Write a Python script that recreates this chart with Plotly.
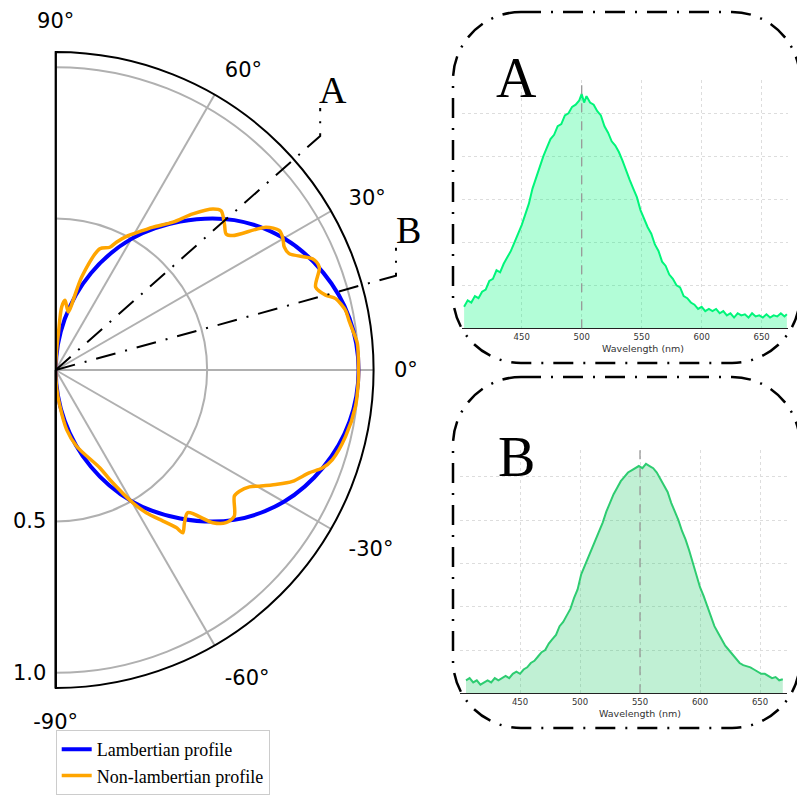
import plotly.graph_objects as go
import math

# ---------------- data ----------------
# Lambertian profile
lamb_theta = [90, 80, 70, 60, 50, 40, 30, 20, 10, 0, -10, -20, -30, -40, -50, -60, -70, -80, -90]
lamb_r = [0.0, 0.17, 0.34, 0.50, 0.64, 0.77, 0.87, 0.94, 0.985, 1.0, 0.985, 0.94, 0.87, 0.77, 0.64, 0.50, 0.34, 0.17, 0.0]

# Non-lambertian profile
nl_theta = [90, 87.5, 85.8, 84.6, 82.4, 79.8, 77.7, 74.4, 70.0, 66.2, 64.6, 61.7, 60.4, 55.7, 51.6, 48.7,
            45.7, 43.9, 40.9, 38.6, 37.2, 34.2, 32.0, 30.3, 28.3, 26.5, 23.4, 21.3, 17.7, 15.5, 14.3,
            11.65, 9.6, 7.0, 5.0, 0.0, -1.9, -6.95, -12.9, -18.0, -20.2, -22.1, -25.2, -27.5, -29.7,
            -31.1, -33.4, -35.2, -39.3, -41.9, -44.2, -47.2, -49.9, -52.0, -52.6, -54.6, -57.6, -59.8,
            -63.7, -65.7, -74.7, -79.6, -83.3, -87, -90]
nl_r = [0.0, 0.06, 0.121, 0.209, 0.232, 0.21, 0.196, 0.319, 0.426, 0.443, 0.467, 0.504, 0.517, 0.571, 0.623, 0.686,
        0.743, 0.758, 0.737, 0.720, 0.734, 0.839, 0.870, 0.868, 0.857, 0.861, 0.924, 0.934, 0.901, 0.925, 0.954,
        0.977, 0.982, 0.992, 1.0, 1.0, 1.0, 0.997, 0.982, 0.960, 0.938, 0.903, 0.864, 0.819, 0.774,
        0.747, 0.727, 0.722, 0.762, 0.755, 0.723, 0.642, 0.660, 0.682, 0.655, 0.612, 0.558, 0.508,
        0.404, 0.355, 0.261, 0.200, 0.122, 0.06, 0.0]

angle_ticks = [90, 60, 30, 0, -30, -60, -90]
angle_labels = ["90°", "60°", "30°", "0°", "-30°", "-60°", "-90°"]
radial_ticks = [0.5, 1.0]
radial_labels = ["0.5", "1.0"]
radial_max = 1.05

# Probe directions
probe_names = ["A", "B"]
probe_angles = [41.5, 15.5]

# Spectrum A
wl_a = [402, 405, 408, 411, 414, 417, 420, 423, 426, 429, 432, 435, 438, 441, 444, 447, 450, 453, 456, 459,
        462, 465, 468, 471, 474, 477, 480, 483, 486, 489, 492, 495, 498, 500, 502, 504, 507, 510, 513, 516,
        519, 522, 525, 528, 531, 534, 537, 540, 543, 546, 549, 552, 555, 558, 561, 564, 567, 570, 573, 576,
        579, 582, 585, 588, 591, 594, 597, 600, 603, 606, 609, 612, 615, 618, 621, 624, 627, 630, 633, 636,
        639, 642, 645, 648, 651, 654, 657, 660, 663, 666, 669, 671]
int_a = [0.10, 0.13, 0.12, 0.15, 0.14, 0.17, 0.18, 0.22, 0.23, 0.27, 0.26, 0.30, 0.33, 0.36, 0.40, 0.44, 0.48, 0.53, 0.58, 0.65,
         0.70, 0.76, 0.80, 0.84, 0.88, 0.90, 0.94, 0.95, 0.99, 1.00, 1.03, 1.04, 1.06, 1.09, 1.05, 1.08, 1.05, 1.04, 1.01, 0.99,
         0.94, 0.91, 0.87, 0.85, 0.82, 0.78, 0.73, 0.69, 0.65, 0.61, 0.55, 0.51, 0.47, 0.44, 0.39, 0.36, 0.31, 0.29, 0.25, 0.23,
         0.20, 0.19, 0.15, 0.14, 0.12, 0.11, 0.09, 0.10, 0.08, 0.09, 0.08, 0.09, 0.07, 0.08, 0.06, 0.07, 0.05, 0.07, 0.06, 0.065,
         0.05, 0.07, 0.055, 0.06, 0.05, 0.065, 0.05, 0.06, 0.055, 0.07, 0.055, 0.065]
peak_a = 500

# Spectrum B
wl_b = [405, 408, 411, 414, 417, 420, 423, 426, 429, 432, 435, 438, 441, 444, 447, 450, 453, 456, 459, 462,
        465, 468, 471, 474, 477, 480, 483, 486, 489, 492, 495, 498, 501, 504, 507, 510, 513, 516, 519, 522,
        525, 528, 531, 534, 537, 540, 543, 546, 549, 552, 555, 558, 561, 564, 567, 570, 573, 576, 579, 582,
        585, 588, 591, 594, 597, 600, 603, 606, 609, 612, 615, 618, 621, 624, 627, 630, 633, 636, 639, 642,
        645, 648, 651, 654, 657, 660, 663, 666, 669]
int_b = [0.06, 0.07, 0.05, 0.06, 0.04, 0.05, 0.06, 0.05, 0.07, 0.06, 0.07, 0.08, 0.07, 0.09, 0.10, 0.09, 0.11, 0.12, 0.14, 0.15,
         0.17, 0.19, 0.20, 0.23, 0.25, 0.27, 0.31, 0.33, 0.36, 0.39, 0.44, 0.48, 0.55, 0.59, 0.63, 0.67, 0.71, 0.75, 0.79, 0.84,
         0.88, 0.92, 0.95, 0.98, 1.00, 1.02, 1.03, 1.04, 1.05, 1.04, 1.06, 1.05, 1.04, 1.02, 0.99, 0.96, 0.93, 0.88, 0.84, 0.80,
         0.75, 0.71, 0.66, 0.60, 0.54, 0.49, 0.45, 0.40, 0.36, 0.31, 0.28, 0.25, 0.22, 0.20, 0.18, 0.16, 0.14, 0.13, 0.125, 0.12,
         0.11, 0.10, 0.09, 0.09, 0.08, 0.07, 0.075, 0.06, 0.065]
peak_b = 550

wl_ticks = [400, 450, 500, 550, 600, 650]
wl_labels = ["", "450", "500", "550", "600", "650"]

# ---------------- layout helpers ----------------
W, H = 797, 796
CX, CY = 55.7, 370.0          # polar centre in pixels
R_OUT = 318.0                 # pixel radius of radial_max


def px(x):
    return x / W


def py(y):
    return 1 - y / H


def rounded_rect(x0, y0, x1, y1, r):
    k = 0.5523 * r
    pts = [f"M {px(x0 + r)},{py(y0)}",
           f"L {px(x1 - r)},{py(y0)}",
           f"C {px(x1 - r + k)},{py(y0)} {px(x1)},{py(y0 + r - k)} {px(x1)},{py(y0 + r)}",
           f"L {px(x1)},{py(y1 - r)}",
           f"C {px(x1)},{py(y1 - r + k)} {px(x1 - r + k)},{py(y1)} {px(x1 - r)},{py(y1)}",
           f"L {px(x0 + r)},{py(y1)}",
           f"C {px(x0 + r - k)},{py(y1)} {px(x0)},{py(y1 - r + k)} {px(x0)},{py(y1 - r)}",
           f"L {px(x0)},{py(y0 + r)}",
           f"C {px(x0)},{py(y0 + r - k)} {px(x0 + r - k)},{py(y0)} {px(x0 + r)},{py(y0)}",
           "Z"]
    return " ".join(pts)


def ann(x, y, text, size, family, color="black"):
    return dict(x=px(x), y=py(y), xref="paper", yref="paper", text=text, showarrow=False,
                xanchor="center", yanchor="middle",
                font=dict(family=family, size=size, color=color))


fig = go.Figure()

# ---------------- polar plot ----------------
fig.add_trace(go.Scatterpolar(r=lamb_r, theta=lamb_theta, mode="lines", name="Lambertian profile",
                              line=dict(color="#0000ff", width=4, shape="spline")))
fig.add_trace(go.Scatterpolar(r=nl_r, theta=nl_theta, mode="lines", name="Non-lambertian profile",
                              line=dict(color="#ffa500", width=3.5, shape="spline", smoothing=0.8)))
fig.add_trace(go.Scatterpolar(r=[radial_max, 0, radial_max], theta=[angle_ticks[0], angle_ticks[0], angle_ticks[-1]],
                              mode="lines", showlegend=False, hoverinfo="skip",
                              line=dict(color="black", width=2)))

# ---------------- spectra ----------------
fig.add_trace(go.Scatter(x=wl_a, y=int_a, mode="lines", fill="tozeroy", showlegend=False,
                         line=dict(color="#00f57a", width=2), fillcolor="rgba(0,250,122,0.30)",
                         xaxis="x", yaxis="y"))
fig.add_trace(go.Scatter(x=wl_b, y=int_b, mode="lines", fill="tozeroy", showlegend=False,
                         line=dict(color="#2ecc71", width=2), fillcolor="rgba(46,204,113,0.30)",
                         xaxis="x2", yaxis="y2"))

shapes = []
annotations = []

# inset borders
border_dash = "20px,10px,2px,10px"
for (y0, y1) in [(12, 363), (377, 728)]:
    shapes.append(dict(type="path", xref="paper", yref="paper", path=rounded_rect(453, y0, 800, y1, 68),
                       line=dict(color="black", width=2.5, dash=border_dash), layer="above"))

# probe lines A / B
for name, ang in zip(probe_names, probe_angles):
    rad = math.radians(ang)
    L = 1.166 * (R_OUT / radial_max)
    xe = CX + L * math.cos(rad)
    ye = CY - L * math.sin(rad)
    yt = ye - 28
    path = f"M {px(CX)},{py(CY)} L {px(xe)},{py(ye)} L {px(xe)},{py(yt)}"
    shapes.append(dict(type="path", xref="paper", yref="paper", path=path,
                       line=dict(color="black", width=2, dash=border_dash), layer="above"))
    annotations.append(ann(xe + 13, yt - 18, name, 38, "Liberation Serif"))

# peak lines
shapes.append(dict(type="line", xref="x", yref="y domain", x0=peak_a, x1=peak_a, y0=0, y1=1,
                   line=dict(color="#999999", width=1.3, dash="dash")))
shapes.append(dict(type="line", xref="x2", yref="y2 domain", x0=peak_b, x1=peak_b, y0=0, y1=1,
                   line=dict(color="#999999", width=1.3, dash="dash")))

# inset labels
annotations.append(ann(516, 78, probe_names[0], 56, "Liberation Serif"))
annotations.append(ann(516, 457, probe_names[1], 56, "Liberation Serif"))
annotations.append(ann(643, 348, "Wavelength (nm)", 9.5, "DejaVu Sans", "#333333"))
annotations.append(ann(640, 713, "Wavelength (nm)", 9.5, "DejaVu Sans", "#333333"))

xcommon = dict(tickvals=wl_ticks, ticktext=wl_labels, showgrid=True, gridcolor="#dddddd", griddash="dot",
               gridwidth=1, showline=True, linecolor="#222222", linewidth=1.2, ticks="", zeroline=False,
               tickfont=dict(family="DejaVu Sans", size=8.5, color="#333333"), fixedrange=True)
ycommon = dict(dtick=0.2, showgrid=True, gridcolor="#dddddd", griddash="dot", gridwidth=1,
               showticklabels=False, ticks="", zeroline=False, showline=False, fixedrange=True)

fig.update_layout(
    width=W, height=H, autosize=False,
    margin=dict(l=0, r=0, t=0, b=0, autoexpand=False),
    paper_bgcolor="white", plot_bgcolor="rgba(0,0,0,0)",
    polar=dict(
        domain=dict(x=[px(CX), px(CX + R_OUT)], y=[py(CY + R_OUT), py(CY - R_OUT)]),
        sector=[-90, 90],
        bgcolor="white",
        hole=0,
        angularaxis=dict(direction="counterclockwise", rotation=0, tickmode="array",
                         tickvals=angle_ticks, ticktext=angle_labels,
                         showline=True, linecolor="black", linewidth=2,
                         showgrid=True, gridcolor="#b0b0b0", gridwidth=1.5,
                         ticks="outside", ticklen=15, tickcolor="rgba(0,0,0,0)",
                         tickfont=dict(family="DejaVu Sans", size=21, color="black")),
        radialaxis=dict(range=[0, radial_max], angle=-90, tickmode="array", tickvals=radial_ticks,
                        ticktext=radial_labels, showline=True, linecolor="black", linewidth=2,
                        showgrid=True, gridcolor="#b0b0b0", gridwidth=1.5, ticks="",
                        tickfont=dict(family="DejaVu Sans", size=21, color="black"), tickangle=-90),
    ),
    xaxis=dict(domain=[px(461.7), px(788.3)], range=[400, 672.2], anchor="y", **xcommon),
    yaxis=dict(domain=[py(328.3), py(80)], range=[0, 1.155], anchor="x", **ycommon),
    xaxis2=dict(domain=[px(460), px(787)], range=[400, 672.5], anchor="y2", **xcommon),
    yaxis2=dict(domain=[py(693.3), py(450)], range=[0, 1.124], anchor="x2", **ycommon),
    legend=dict(x=px(55.7), y=py(795), xanchor="left", yanchor="bottom",
                font=dict(family="Liberation Serif", size=18, color="black"),
                bgcolor="white", bordercolor="#cccccc", borderwidth=1, tracegroupgap=0),
    shapes=shapes,
    annotations=annotations,
)

fig.write_html("out.html")
